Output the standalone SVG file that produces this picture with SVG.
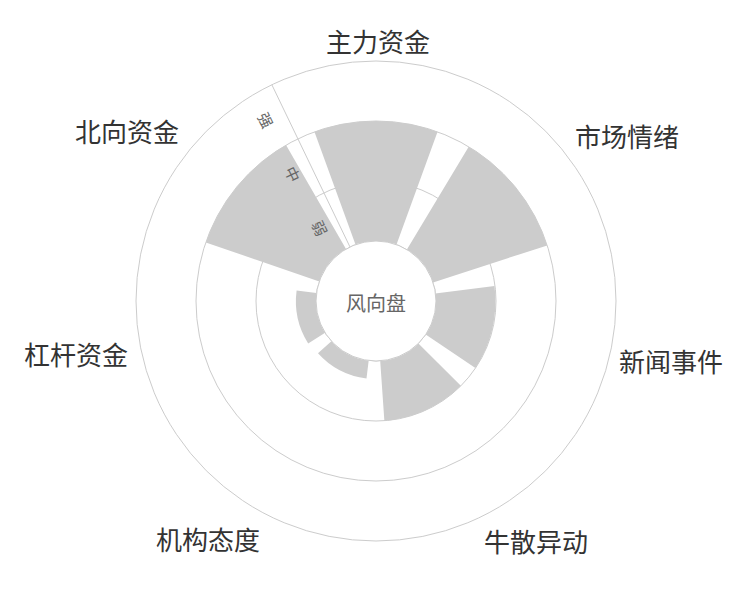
<svg xmlns="http://www.w3.org/2000/svg" width="750" height="600" viewBox="0 0 750 600">
<style>
.g{fill:none;stroke:#ccc;stroke-width:1}
.b{fill:#ccc;stroke:none}
.lab{font-family:"Noto Sans CJK SC","Liberation Sans",sans-serif;font-size:26px;fill:#333;text-anchor:middle;dominant-baseline:central}
.ax{font-family:"Noto Sans CJK SC","Liberation Sans",sans-serif;font-size:15px;fill:#666;text-anchor:middle;dominant-baseline:central}
</style>
<rect width="750" height="600" fill="#fff"/>
<g id="grid">
<circle class="g" cx="376" cy="301" r="240"/>
<circle class="g" cx="376" cy="301" r="180"/>
<circle class="g" cx="376" cy="301" r="120"/>
<circle class="g" cx="376" cy="301" r="60"/>
<line class="g" x1="349.98" y1="246.94" x2="271.87" y2="84.77"/>
</g>
<g id="bars">
<path id="bar-zhuli" class="b" d="M355.48,244.62 L314.44,131.86 A180,180 0 0 1 437.56,131.86 L396.52,244.62 A60,60 0 0 0 355.48,244.62Z"/>
<path id="bar-shichang" class="b" d="M406.9,249.58 L468.71,146.72 A180,180 0 0 1 547.2,245.38 L433.07,282.46 A60,60 0 0 0 406.9,249.58Z"/>
<path id="bar-xinwen" class="b" d="M435.25,293.54 L494.5,286.08 A120,120 0 0 1 475.4,368.1 L425.7,334.55 A60,60 0 0 0 435.25,293.54Z"/>
<path id="bar-niusan" class="b" d="M418.43,343.43 L460.85,385.85 A120,120 0 0 1 384.37,420.71 L380.19,360.85 A60,60 0 0 0 418.43,343.43Z"/>
<path id="bar-jigou" class="b" d="M368.69,360.55 L366.49,378.42 A78,78 0 0 1 317.99,353.19 L331.4,341.15 A60,60 0 0 0 368.69,360.55Z"/>
<path id="bar-ganggan" class="b" d="M325.12,332.8 L308.17,343.4 A80,80 0 0 1 296.61,290.42 L316.46,293.07 A60,60 0 0 0 325.12,332.8Z"/>
<path id="bar-beixiang" class="b" d="M319.27,281.47 L205.82,242.41 A180,180 0 0 1 286,145.12 L346,249.04 A60,60 0 0 0 319.27,281.47Z"/>
</g>
<circle cx="376" cy="301" r="60" fill="#fff" stroke="#ccc"/>
<g id="axis-labels">
<text class="ax" transform="translate(266,120) rotate(64.3)">强</text>
<text class="ax" transform="translate(293,174) rotate(64.3)">中</text>
<text class="ax" transform="translate(320,228) rotate(64.3)">弱</text>
</g>
<g id="labels">
<text class="lab" x="378" y="40">主力资金</text>
<text class="lab" x="627" y="135">市场情绪</text>
<text class="lab" x="671" y="360">新闻事件</text>
<text class="lab" x="536" y="540">牛散异动</text>
<text class="lab" x="208" y="538">机构态度</text>
<text class="lab" x="76" y="353">杠杆资金</text>
<text class="lab" x="127" y="130">北向资金</text>
<text x="376" y="302" style="font-family:'Noto Sans CJK SC',sans-serif;font-size:20px;fill:#666;text-anchor:middle;dominant-baseline:central">风向盘</text>
</g>
</svg>
